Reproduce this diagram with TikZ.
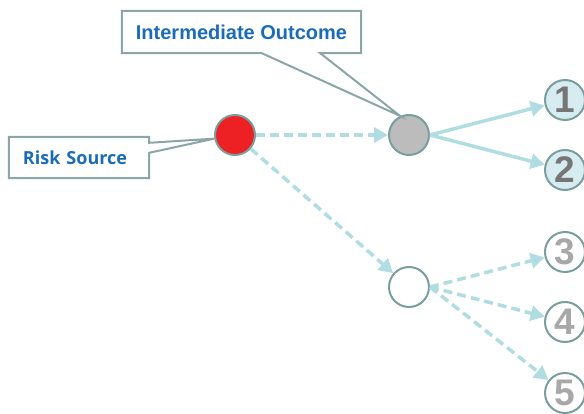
\documentclass[tikz,border=0pt]{standalone}
\usepackage{fontspec}
\usepackage{xcolor}
\usepackage{tikz}
\usetikzlibrary{arrows.meta,calc}

\newfontfamily\srcfont{Open Sans}
\newfontfamily\armfont{Liberation Sans}

\definecolor{boxline}{RGB}{138,166,166}
\definecolor{labelblue}{RGB}{26,108,184}
\definecolor{riskred}{RGB}{237,32,36}
\definecolor{midgray}{RGB}{188,188,188}
\definecolor{ringline}{RGB}{122,158,158}
\definecolor{flow}{RGB}{176,221,226}
\definecolor{paleblue}{RGB}{214,236,240}
\definecolor{darknum}{RGB}{118,118,118}
\definecolor{lightnum}{RGB}{168,168,168}

\tikzset{
  event/.style={circle, draw=ringline, line width=2pt, minimum size=40pt, inner sep=0pt},
  outcome/.style={event, font=\armfont\bfseries\fontsize{37}{37}\selectfont},
  callout/.style={draw=boxline, line width=2pt, line join=miter},
  calltext/.style={text=labelblue, inner sep=0pt},
  flowline/.style={draw=flow, line width=3.5pt, -{Triangle[length=14pt,width=15pt]}},
  flowdash/.style={flowline, dash pattern=on 9pt off 5pt},
}

\begin{document}
\begin{tikzpicture}[x=1pt, y=-1pt]
            \useasboundingbox (0,0) rectangle (584,414);

            \node[event, fill=riskred] (src) at (235,135) {};
            \node[event, fill=midgray] (inter) at (409,135) {};
            \node[event, fill=white] (alt) at (409,287) {};

            \node[outcome, fill=paleblue, text=darknum] (o1) at (565,100) {1};
            \node[outcome, fill=paleblue, text=darknum] (o2) at (565,170) {2};
            \node[outcome, fill=white, text=lightnum] (o3) at (565,252) {3};
            \node[outcome, fill=white, text=lightnum] (o4) at (565,322) {4};
            \node[outcome, fill=white, text=lightnum] (o5) at (565,393) {5};

            \draw[flowdash] (src) -- (inter); % source - intermediate
            \draw[flowdash] (src) -- (alt); % source - other branch
            \draw[flowline] (inter.east) -- (o1);
            \draw[flowline] (inter.east) -- (o2);
            \draw[flowdash] (alt.east) -- (o3);
            \draw[flowdash] (alt.east) -- (o4);
            \draw[flowdash] (alt.east) -- (o5);

            \node[calltext, minimum width=140pt, minimum height=41pt, text width=112pt, align=left,
                  font=\srcfont\bfseries\fontsize{18}{18}\selectfont] (srcbox) at (79,157.5) {Risk Source};
            \node[calltext, minimum width=239pt, minimum height=42pt,
                  font=\armfont\bfseries\fontsize{20}{20}\selectfont] (ibox) at (241.5,32) {Intermediate Outcome};

            \draw[callout] (srcbox.north west) -- (srcbox.north east) -- ($(srcbox.north east)+(0,6)$)
              -- (src.190) -- ($(srcbox.north east)+(0,16)$) -- (srcbox.south east) -- (srcbox.south west) -- cycle;
            \draw[callout] (ibox.north west) -- (ibox.north east) -- (ibox.south east) -- ($(ibox.south east)+(-41,0)$)
              -- (inter.115) -- ($(ibox.south west)+(140,0)$) -- (ibox.south west) -- cycle;
        \end{tikzpicture}
\end{document}
